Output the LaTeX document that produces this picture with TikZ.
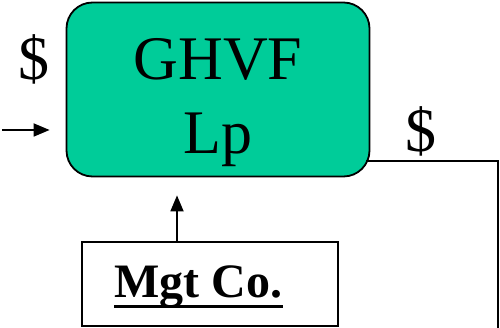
\documentclass[tikz,border=0pt]{standalone}
\usepackage{fontspec}
\setmainfont{Liberation Serif}
\usetikzlibrary{arrows.meta}
\definecolor{lpgreen}{RGB}{0,204,153}
\begin{document}
\begin{tikzpicture}[x=1pt,y=-1pt,
  ln/.style={line width=1.8pt},
  arr/.style={ln,-{Triangle[length=16pt,width=13pt]}},
  big/.style={font=\fontsize{62}{62}\selectfont, inner sep=0pt},
]
\useasboundingbox (0,0) rectangle (500,328);
% main box
\node[ln, draw=black, fill=lpgreen, rounded corners=26pt, minimum width=303pt, minimum height=174pt, inner sep=0pt] (lp) at (218,89.5) {};
\node[big, anchor=base] (t1) at (218,80) {GHVF};
\node[big, anchor=base] (t2) at (218,154) {Lp};
% dollar labels
\node[big, anchor=base] (d1) at (34,80) {\$};
\node[big, anchor=base] (d2) at (421,152) {\$};
% management box
\node[ln, draw=black, fill=white, minimum width=256pt, minimum height=84pt, inner sep=0pt] (mgt) at (210,284) {};
\node[anchor=base, inner sep=0pt, font=\fontsize{48}{48}\selectfont\bfseries] (mgtt) at (198.5,298) {Mgt Co.};
\draw[line width=3pt] ([yshift=-8pt]mgtt.base west) -- ([yshift=-8pt]mgtt.base east);
% connectors
\coordinate (in) at (2,130);
\draw[arr, shorten >=16pt] (in) -- (in -| lp.west);
\coordinate (mgtup) at ([xshift=-33pt]mgt.north);
\draw[arr, shorten >=18pt] (mgtup) -- (mgtup |- lp.south);
\coordinate (r1) at (366,161);
\coordinate (r2) at (498,161);
\coordinate (r3) at (498,330);
\draw[ln] (r1) -- (r2) -- (r3);
\end{tikzpicture}
\end{document}
